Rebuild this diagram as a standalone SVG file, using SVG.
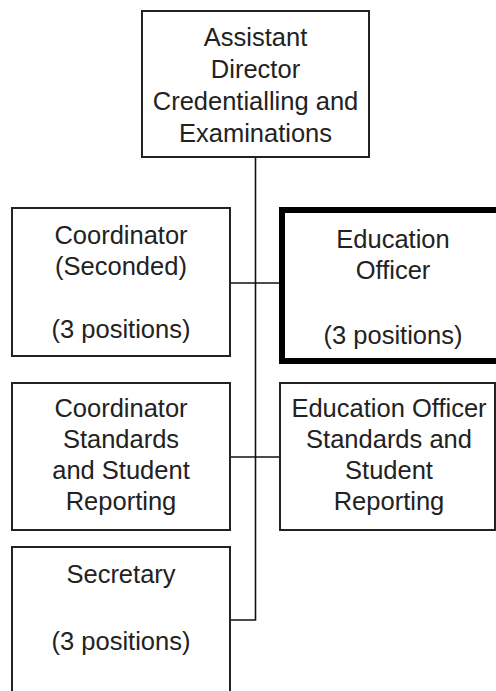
<svg xmlns="http://www.w3.org/2000/svg" width="496" height="691" viewBox="0 0 496 691">
<style>
.box{fill:#fff;stroke:#222;stroke-width:2}
.thick{fill:#fff;stroke:#000;stroke-width:6}
.t{font-family:"Liberation Sans",Arial,sans-serif;font-size:25.5px;fill:#222;text-anchor:middle}
.c{stroke:#111;stroke-width:1.6;fill:none}
</style>
<rect width="496" height="691" fill="#fff"/>
<g id="connectors">
<path class="c" d="M255.5 157 V620 H231"/>
<path class="c" d="M231 283 H280"/>
<path class="c" d="M231 457 H280"/>
</g>
<g id="assistant-director">
<rect class="box" x="142" y="11" width="227" height="146"/>
<text class="t" x="255.5" y="46">Assistant</text>
<text class="t" x="255.5" y="78">Director</text>
<text class="t" x="255.5" y="110">Credentialling and</text>
<text class="t" x="255.5" y="142">Examinations</text>
</g>
<g id="coordinator-seconded">
<rect class="box" x="12" y="208" width="218" height="148"/>
<text class="t" x="121" y="244">Coordinator</text>
<text class="t" x="121" y="275">(Seconded)</text>
<text class="t" x="121" y="338">(3 positions)</text>
</g>
<g id="education-officer">
<rect class="thick" x="282" y="210" width="222" height="151"/>
<text class="t" x="393" y="248">Education</text>
<text class="t" x="393" y="279">Officer</text>
<text class="t" x="393" y="344">(3 positions)</text>
</g>
<g id="coordinator-standards">
<rect class="box" x="12" y="383" width="218" height="147"/>
<text class="t" x="121" y="417">Coordinator</text>
<text class="t" x="121" y="448">Standards</text>
<text class="t" x="121" y="479">and Student</text>
<text class="t" x="121" y="510">Reporting</text>
</g>
<g id="education-officer-standards">
<rect class="box" x="280" y="383" width="215" height="147"/>
<text class="t" x="389" y="417">Education Officer</text>
<text class="t" x="389" y="448">Standards and</text>
<text class="t" x="389" y="479">Student</text>
<text class="t" x="389" y="510">Reporting</text>
</g>
<g id="secretary">
<rect class="box" x="12" y="547" width="218" height="160"/>
<text class="t" x="121" y="583">Secretary</text>
<text class="t" x="121" y="650">(3 positions)</text>
</g>
</svg>
